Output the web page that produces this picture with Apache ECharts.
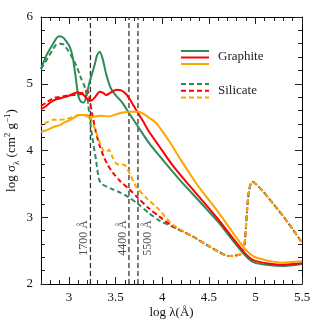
<!DOCTYPE html>
<html><head><meta charset="utf-8">
<script src="https://cdn.jsdelivr.net/npm/echarts@6/dist/echarts.min.js"></script>
<style>html,body{margin:0;padding:0;background:#fff}#c{width:319px;height:319px}</style>
</head><body><div id="c"></div>
<script>
// ---- data ----
const xTicks = [3, 3.5, 4, 4.5, 5, 5.5];
const yTicks = [2, 3, 4, 5, 6];
const refLineX = [3.2304, 3.6435, 3.7404];          // log10 of 1700, 4400, 5500 Å
const refLineLabels = ['1700 Å', '4400 Å', '5500 Å'];
const refLabelY = 2.69;

const graphiteGreen = [[2.70,5.22],[2.76,5.43],[2.83,5.60],[2.89,5.71],[2.93,5.70],[2.97,5.64],[3.01,5.55],[3.04,5.40],[3.07,5.12],[3.10,4.82],[3.13,4.73],[3.16,4.72],[3.19,4.84],[3.22,5.02],[3.275,5.28],[3.30,5.42],[3.33,5.48],[3.36,5.38],[3.40,5.14],[3.45,4.93],[3.50,4.83],[3.57,4.72],[3.64,4.57],[3.74,4.36],[3.86,4.11],[3.97,3.92],[4.20,3.54],[4.40,3.24],[4.60,2.93],[4.87,2.46],[4.99,2.32],[5.29,2.27],[5.50,2.30]];
const graphiteRed = [[2.70,4.62],[2.75,4.66],[2.80,4.72],[2.85,4.76],[2.90,4.78],[2.95,4.80],[3.00,4.82],[3.06,4.86],[3.10,4.87],[3.15,4.84],[3.20,4.77],[3.24,4.75],[3.28,4.80],[3.33,4.88],[3.37,4.86],[3.40,4.83],[3.45,4.87],[3.51,4.91],[3.56,4.90],[3.61,4.85],[3.66,4.75],[3.72,4.61],[3.79,4.45],[3.86,4.28],[3.97,4.06],[4.10,3.80],[4.24,3.56],[4.40,3.30],[4.60,2.97],[4.87,2.49],[4.99,2.35],[5.29,2.29],[5.50,2.31]];
const graphiteOrange = [[2.70,4.28],[2.75,4.30],[2.80,4.33],[2.85,4.36],[2.90,4.38],[2.95,4.42],[3.00,4.45],[3.05,4.49],[3.11,4.53],[3.16,4.53],[3.22,4.50],[3.28,4.51],[3.35,4.52],[3.43,4.51],[3.50,4.54],[3.58,4.57],[3.65,4.58],[3.74,4.58],[3.80,4.55],[3.86,4.49],[3.92,4.43],[3.97,4.35],[4.08,4.13],[4.20,3.86],[4.33,3.58],[4.40,3.44],[4.60,3.08],[4.88,2.54],[5.00,2.40],[5.29,2.32],[5.50,2.34]];

const silicateGreen = [[2.70,5.22],[2.77,5.38],[2.82,5.50],[2.86,5.58],[2.90,5.60],[2.94,5.59],[2.98,5.52],[3.02,5.43],[3.08,5.27],[3.13,5.08],[3.17,4.95],[3.20,4.76],[3.22,4.52],[3.25,4.20],[3.29,3.86],[3.32,3.58],[3.35,3.50],[3.45,3.43],[3.55,3.37],[3.64,3.30],[3.74,3.20],[3.86,3.06],[3.97,2.95],[4.11,2.86],[4.33,2.71],[4.51,2.56],[4.72,2.42],[4.85,2.45],[4.88,2.56],[4.97,3.53],[5.29,3.03],[5.50,2.62]];
const silicateRed = [[2.70,4.67],[2.75,4.71],[2.80,4.76],[2.85,4.79],[2.90,4.80],[2.97,4.82],[3.04,4.83],[3.11,4.84],[3.16,4.87],[3.19,4.90],[3.21,4.86],[3.23,4.70],[3.26,4.47],[3.29,4.27],[3.33,4.07],[3.37,3.92],[3.41,3.80],[3.47,3.67],[3.55,3.54],[3.64,3.43],[3.74,3.29],[3.86,3.13],[3.97,3.01],[4.11,2.87],[4.33,2.71],[4.51,2.56],[4.72,2.42],[4.85,2.45],[4.88,2.56],[4.97,3.53],[5.29,3.03],[5.50,2.62]];
const silicateOrange = [[2.70,4.37],[2.76,4.42],[2.83,4.46],[2.90,4.46],[2.97,4.47],[3.04,4.50],[3.11,4.53],[3.16,4.53],[3.20,4.53],[3.23,4.49],[3.26,4.40],[3.29,4.28],[3.33,4.12],[3.37,4.00],[3.40,3.98],[3.43,4.01],[3.47,3.89],[3.51,3.80],[3.56,3.79],[3.60,3.78],[3.65,3.66],[3.72,3.46],[3.83,3.29],[3.97,3.11],[4.11,2.89],[4.33,2.71],[4.51,2.56],[4.72,2.42],[4.85,2.45],[4.88,2.56],[4.97,3.53],[5.29,3.03],[5.50,2.62]];

// ---- styles ----
const GREEN = '#2e8b57', RED = '#ff0000', ORANGE = '#ffa500';
const FONT = 'Liberation Serif';
const xMinor = [];
for (let i = 27; i <= 55; i++) xMinor.push(i / 10);

const gridRect = {left: 41, right: 17, top: 17, bottom: 35, outerBoundsMode: 'none', containLabel: false};
const tickStyle = {color: '#222', width: 1};

function lineSeries(data, color, dashed, offset) {
  return {
    type: 'line', data: data, xAxisIndex: 0, yAxisIndex: 0,
    showSymbol: false, symbol: 'none', smooth: 0.25, silent: true,
    lineStyle: {color: color, width: 2, type: dashed ? [5, 3] : 'solid', dashOffset: offset || 0},
    z: 3
  };
}

const series = [];
refLineX.forEach(function (x) {
  series.push({type: 'line', data: [[x, 2], [x, 6]], symbol: 'none', silent: true,
    lineStyle: {color: '#333', width: 1.3, type: [5, 3]}, z: 2});
});
series.push({
  type: 'scatter', symbolSize: 0, silent: true, z: 4,
  data: refLineX.map(function (x, i) {
    // label is rotated 90°, so offset [along, across]; across>0 moves right on screen
    return {value: [x, refLabelY], name: refLineLabels[i],
      label: {offset: [0, i === 2 ? 9.5 : -6.5]}};
  }),
  label: {show: true, position: 'inside', rotate: 90, formatter: '{b}',
    fontFamily: FONT, fontSize: 12, color: '#222'}
});
series.push(lineSeries(silicateGreen, GREEN, true));
series.push(lineSeries(silicateRed, RED, true, 0));
series.push(lineSeries(silicateOrange, ORANGE, true, 4));
series.push(lineSeries(graphiteGreen, GREEN, false));
series.push(lineSeries(graphiteRed, RED, false));
series.push(lineSeries(graphiteOrange, ORANGE, false));

const lg = {x1: 181, x2: 209};
const graphic = [
  {type: 'line', shape: {x1: lg.x1, y1: 51, x2: lg.x2, y2: 51}, style: {stroke: GREEN, lineWidth: 2}},
  {type: 'line', shape: {x1: lg.x1, y1: 57.5, x2: lg.x2, y2: 57.5}, style: {stroke: RED, lineWidth: 2}},
  {type: 'line', shape: {x1: lg.x1, y1: 64, x2: lg.x2, y2: 64}, style: {stroke: ORANGE, lineWidth: 2}},
  {type: 'text', x: 218, y: 57, style: {text: 'Graphite', font: '13px "Liberation Serif"', fill: '#222', verticalAlign: 'middle'}},
  {type: 'line', shape: {x1: lg.x1, y1: 84, x2: lg.x2, y2: 84}, style: {stroke: GREEN, lineWidth: 2, lineDash: [5, 3]}},
  {type: 'line', shape: {x1: lg.x1, y1: 90.7, x2: lg.x2, y2: 90.7}, style: {stroke: RED, lineWidth: 2, lineDash: [5, 3]}},
  {type: 'line', shape: {x1: lg.x1, y1: 97.5, x2: lg.x2, y2: 97.5}, style: {stroke: ORANGE, lineWidth: 2, lineDash: [5, 3]}},
  {type: 'text', x: 218, y: 91, style: {text: 'Silicate', font: '13px "Liberation Serif"', fill: '#222', verticalAlign: 'middle'}}
];

const option = {
  animation: false,
  backgroundColor: '#fff',
  grid: [Object.assign({}, gridRect), Object.assign({}, gridRect)],
  xAxis: [
    {gridIndex: 0, type: 'value', position: 'bottom', min: 2.7, max: 5.5,
      axisLine: {show: true, lineStyle: {color: '#000', width: 1}},
      axisTick: {show: true, inside: true, length: 7, customValues: xTicks, lineStyle: tickStyle},
      axisLabel: {show: true, customValues: xTicks, margin: 7, fontFamily: FONT, fontSize: 13, color: '#111'},
      splitLine: {show: false},
      name: 'log λ(Å)', nameLocation: 'middle', nameGap: 22, nameMoveOverlap: false,
      nameTextStyle: {fontFamily: FONT, fontSize: 13, color: '#111'}},
    {gridIndex: 0, type: 'value', position: 'top', min: 2.7, max: 5.5,
      axisLine: {show: true, lineStyle: {color: '#000', width: 1}},
      axisTick: {show: true, inside: true, length: 7, customValues: xTicks, lineStyle: tickStyle},
      axisLabel: {show: false}, splitLine: {show: false}},
    {gridIndex: 1, type: 'value', position: 'bottom', min: 2.7, max: 5.5,
      axisLine: {show: false},
      axisTick: {show: true, inside: true, length: 4, customValues: xMinor, lineStyle: tickStyle},
      axisLabel: {show: false}, splitLine: {show: false}},
    {gridIndex: 1, type: 'value', position: 'top', min: 2.7, max: 5.5,
      axisLine: {show: false},
      axisTick: {show: true, inside: true, length: 4, customValues: xMinor, lineStyle: tickStyle},
      axisLabel: {show: false}, splitLine: {show: false}}
  ],
  yAxis: [
    {gridIndex: 0, type: 'value', position: 'left', min: 2, max: 6, interval: 1,
      axisLine: {show: true, lineStyle: {color: '#000', width: 1}},
      axisTick: {show: true, inside: true, length: 7, lineStyle: tickStyle},
      minorTick: {show: true, splitNumber: 5, length: 4, lineStyle: tickStyle},
      axisLabel: {show: true, margin: 8, fontFamily: FONT, fontSize: 13, color: '#111'},
      splitLine: {show: false},
      name: '{a|log σ}{s|λ}{a| (cm}{p|2}{a| g}{p|−1}{a|)}', nameLocation: 'middle', nameGap: 20, nameMoveOverlap: false,
      nameTextStyle: {fontFamily: FONT, fontSize: 13, color: '#111',
        rich: {
          a: {fontFamily: FONT, fontSize: 13, color: '#111', lineHeight: 18},
          s: {fontFamily: FONT, fontSize: 9, color: '#111', verticalAlign: 'bottom', lineHeight: 9},
          p: {fontFamily: FONT, fontSize: 9, color: '#111', verticalAlign: 'top', lineHeight: 9}
        }}},
    {gridIndex: 0, type: 'value', position: 'right', min: 2, max: 6, interval: 1,
      axisLine: {show: true, lineStyle: {color: '#000', width: 1}},
      axisTick: {show: true, inside: true, length: 7, lineStyle: tickStyle},
      minorTick: {show: true, splitNumber: 5, length: 4, lineStyle: tickStyle},
      axisLabel: {show: false}, splitLine: {show: false}},
    {gridIndex: 1, type: 'value', show: false, min: 2, max: 6}
  ],
  series: series,
  graphic: graphic
};

const chart = echarts.init(document.getElementById('c'), null, {renderer: 'canvas'});
chart.setOption(option);
</script>
</body></html>
